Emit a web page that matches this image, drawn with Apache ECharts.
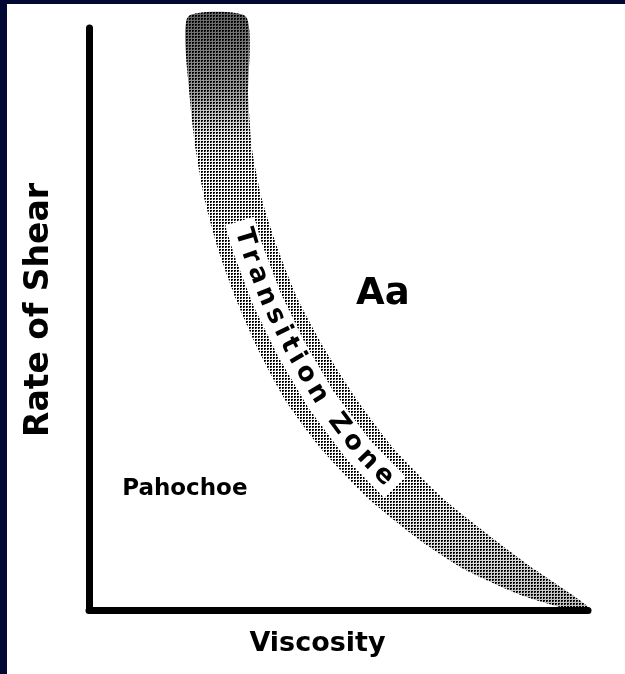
<!DOCTYPE html>
<html><head><meta charset="utf-8">
<script src="https://cdn.jsdelivr.net/npm/echarts@6/dist/echarts.min.js"></script>
<style>html,body{margin:0;padding:0;background:#fff}#c{width:625px;height:674px}</style>
</head><body><div id="c"></div>
<script>
// Transition zone band: for each shear level, lower and upper viscosity bound
const shearLevels   = [101.9, 88.1, 79.0, 70.4, 61.9, 53.3, 44.7, 36.1, 27.5, 18.9, 12.0, 6.9, 2.6, 0.3];
const viscosityLow  = [19.8, 20.2, 21.4, 23.2, 25.9, 29.5, 33.9, 39.3, 46.7, 56.3, 66.3, 75.4, 86.4, 95.4];
const viscosityHigh = [31.5, 31.9, 32.7, 34.7, 37.9, 41.9, 47.3, 53.7, 61.3, 71.3, 81.4, 89.4, 96.8, 100.2];
const zoneLabel = 'Transition Zone';
const zoneLabelShearStart = 65.5;
const zoneLabelShearEnd = 22.0;
const regionNames = ['Aa', 'Pahochoe'];
const regionViscosity = [58.9, 19.2];
const regionShear = [54.2, 20.8];

const FONT = '"DejaVu Sans", "Liberation Sans", sans-serif';

function makePattern() {
  const c = document.createElement('canvas');
  c.width = 3; c.height = 3;
  const g = c.getContext('2d');
  g.fillStyle = '#000';
  g.fillRect(0, 0, 2, 1);
  g.fillRect(0, 1, 1, 1);
  g.fillStyle = 'rgba(0,0,0,0.5)';
  g.fillRect(1, 1, 1, 1);
  return c;
}
const pattern = makePattern();
const measureCtx = document.createElement('canvas').getContext('2d');

function renderBand(params, api) {
  if (params.dataIndex !== 0) return null;
  const hi = shearLevels.map((s, i) => api.coord([viscosityHigh[i], s]));
  const lo = shearLevels.map((s, i) => api.coord([viscosityLow[i], s]));
  const poly = hi.concat(lo.slice().reverse());
  const mid = hi.map((p, i) => [(p[0] + lo[i][0]) / 2, (p[1] + lo[i][1]) / 2]);
  const cum = [0];
  for (let i = 1; i < mid.length; i++) {
    cum.push(cum[i - 1] + Math.hypot(mid[i][0] - mid[i - 1][0], mid[i][1] - mid[i - 1][1]));
  }
  function pointAt(s) {
    for (let i = 1; i < mid.length; i++) {
      if (s <= cum[i] || i === mid.length - 1) {
        const t = (s - cum[i - 1]) / (cum[i] - cum[i - 1]);
        return [mid[i - 1][0] + t * (mid[i][0] - mid[i - 1][0]), mid[i - 1][1] + t * (mid[i][1] - mid[i - 1][1])];
      }
    }
  }
  function arcAtY(y) {
    for (let i = 1; i < mid.length; i++) {
      if (y <= mid[i][1]) {
        const t = (y - mid[i - 1][1]) / (mid[i][1] - mid[i - 1][1]);
        return cum[i - 1] + t * (cum[i] - cum[i - 1]);
      }
    }
    return cum[cum.length - 1];
  }
  const yTop = hi[0][1], yBot = hi[hi.length - 1][1];
  const sStart = arcAtY(api.coord([0, zoneLabelShearStart])[1]);
  const sEnd = arcAtY(api.coord([0, zoneLabelShearEnd])[1]);

  const children = [];
  children.push({
    type: 'polygon', shape: { points: poly, smooth: 0.2 },
    style: { fill: { image: pattern, repeat: 'repeat' } }
  });
  children.push({
    type: 'polygon', shape: { points: poly, smooth: 0.2 },
    style: {
      fill: new echarts.graphic.LinearGradient(0, yTop, 0, yBot, [
        { offset: 0, color: 'rgba(0,0,0,0.6)' },
        { offset: 0.12, color: 'rgba(0,0,0,0.4)' },
        { offset: 0.2, color: 'rgba(0,0,0,0.08)' },
        { offset: 0.26, color: 'rgba(0,0,0,0)' },
        { offset: 0.78, color: 'rgba(0,0,0,0)' },
        { offset: 0.92, color: 'rgba(0,0,0,0.15)' },
        { offset: 1, color: 'rgba(0,0,0,0.25)' }
      ], true)
    }
  });
  const strip = [];
  for (let s = sStart - 8; s <= sEnd + 8; s += 3) strip.push(pointAt(s));
  children.push({
    type: 'polyline', shape: { points: strip, smooth: 0.3 },
    style: { stroke: '#fff', lineWidth: 30, fill: null, lineCap: 'butt' }
  });
  const fontSize = 26;
  measureCtx.font = 'bold ' + fontSize + 'px ' + FONT;
  const chars = zoneLabel.split('');
  const widths = chars.map(ch => measureCtx.measureText(ch).width);
  const W = widths.reduce((a, b) => a + b, 0);
  const gap = (sEnd - sStart - W) / (chars.length - 1);
  let acc = sStart;
  chars.forEach((ch, i) => {
    const sc = acc + widths[i] / 2;
    acc += widths[i] + gap;
    if (ch === ' ') return;
    const p = pointAt(sc);
    const a = pointAt(sc - 10), b = pointAt(sc + 10);
    const ang = Math.atan2(b[1] - a[1], b[0] - a[0]);
    children.push({
      type: 'text', x: p[0], y: p[1], rotation: -ang,
      style: {
        text: ch, fill: '#000', align: 'center', verticalAlign: 'middle',
        font: 'bold ' + fontSize + 'px ' + FONT
      }
    });
  });
  return { type: 'group', children: children };
}

const chart = echarts.init(document.getElementById('c'));
const axisCommon = {
  type: 'value', min: 0, max: 100,
  axisLine: { show: true, lineStyle: { color: '#000', width: 7, cap: 'round' } },
  axisTick: { show: false }, axisLabel: { show: false }, splitLine: { show: false },
  nameLocation: 'middle'
};
const labelStyle = {
  show: true, position: 'inside', formatter: '{b}', color: '#000', opacity: 1,
  fontFamily: FONT, fontWeight: 'bold', textBorderWidth: 0
};
chart.setOption({
  animation: false,
  backgroundColor: '#fff',
  graphic: [
    { type: 'rect', z: 100, shape: { x: 0, y: 0, width: 625, height: 4 }, style: { fill: '#000833' } },
    { type: 'rect', z: 100, shape: { x: 0, y: 0, width: 7, height: 674 }, style: { fill: '#000833' } }
  ],
  grid: { left: 89, right: 37, top: 28, bottom: 64 },
  xAxis: Object.assign({}, axisCommon, {
    name: 'Viscosity', nameGap: 20,
    nameTextStyle: { fontFamily: FONT, fontWeight: 'bold', fontSize: 27, color: '#000', padding: [0, 42, 0, 0] }
  }),
  yAxis: Object.assign({}, axisCommon, {
    name: 'Rate of Shear', nameGap: 33,
    nameTextStyle: { fontFamily: FONT, fontWeight: 'bold', fontSize: 33, color: '#000', padding: [0, 0, 0, 18] }
  }),
  series: [
    {
      type: 'custom', clip: false, silent: true, z: 2,
      data: shearLevels.map((s, i) => [viscosityLow[i], viscosityHigh[i], s]),
      encode: { x: [0, 1], y: 2 },
      renderItem: renderBand
    },
    {
      type: 'scatter', silent: true, z: 3, symbolSize: 1,
      itemStyle: { color: 'rgba(0,0,0,0)' },
      data: regionNames.map((n, i) => ({
        name: n, value: [regionViscosity[i], regionShear[i]],
        label: Object.assign({}, labelStyle, { fontSize: i === 0 ? 37 : 23 })
      })),
      label: labelStyle
    }
  ]
});
</script>
</body></html>
